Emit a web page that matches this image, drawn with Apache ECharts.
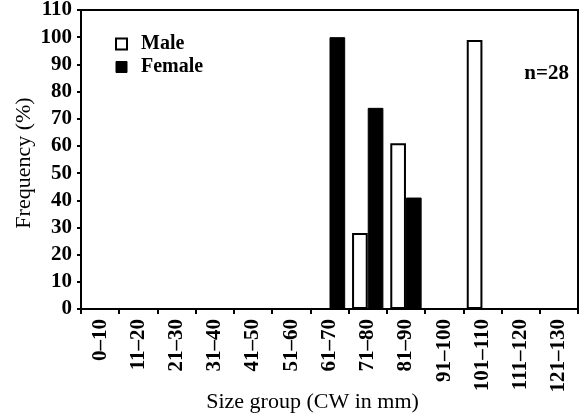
<!DOCTYPE html>
<html>
<head>
<meta charset="utf-8">
<script src="https://cdn.jsdelivr.net/npm/echarts@6/dist/echarts.min.js"></script>
<style>html,body{margin:0;padding:0;background:#fff}#c{width:580px;height:418px}</style>
</head>
<body>
<div id="c"></div>
<script>
const categories = ['0–10','11–20','21–30','31–40','41–50','51–60','61–70','71–80','81–90','91–100','101–110','111–120','121–130'];
const maleValues   = [0,0,0,0,0,0,0,28,61,0,99,0,0];
const femaleValues = [0,0,0,0,0,0,100,74,41,0,0,0,0];
const yTicks = {min: 0, max: 110, interval: 10};
const FONT = '"Liberation Serif", "Times New Roman", serif';

const chart = echarts.init(document.getElementById('c'), null, {renderer: 'canvas'});
chart.setOption({
  animation: false,
  backgroundColor: '#fff',
  textStyle: {fontFamily: FONT, color: '#000'},
  grid: {left: 81, top: 10, right: 2, bottom: 109, containLabel: false, outerBoundsMode: 'none',
         show: true, borderColor: '#000', borderWidth: 2, backgroundColor: 'transparent'},
  legend: {
    orient: 'vertical', left: 110, top: 29, itemWidth: 11, itemHeight: 11, itemGap: 3,
    icon: 'rect',
    textStyle: {fontFamily: FONT, fontSize: 20, color: '#000', fontWeight: 'bold', padding: [0, 0, 0, 9]},
    data: [
      {name: 'Male', itemStyle: {color: '#fff', borderColor: '#000', borderWidth: 2}},
      {name: 'Female', itemStyle: {color: '#000', borderColor: '#000', borderWidth: 1}}
    ]
  },
  graphic: [{type: 'text', right: 11, top: 63, style: {text: 'n=28', font: 'bold 21px ' + FONT, fill: '#000'}}],
  xAxis: {
    type: 'category', data: categories,
    name: 'Size group (CW in mm)', nameLocation: 'middle', nameGap: 82, nameMoveOverlap: false,
    nameTextStyle: {fontFamily: FONT, fontSize: 22, color: '#000', padding: [0, 34, 0, 0]},
    axisLine: {lineStyle: {color: '#000', width: 2}},
    axisTick: {show: true, length: 5, lineStyle: {color: '#000', width: 2}},
    axisLabel: {rotate: 90, interval: 0, fontFamily: FONT, fontSize: 21, fontWeight: 'bold', color: '#000', margin: 10}
  },
  yAxis: {
    type: 'value', min: yTicks.min, max: yTicks.max, interval: yTicks.interval,
    name: 'Frequency (%)', nameLocation: 'middle', nameGap: 46, nameMoveOverlap: false,
    nameTextStyle: {fontFamily: FONT, fontSize: 22, color: '#000', padding: [0, 7, 0, 0]},
    axisLine: {show: true, lineStyle: {color: '#000', width: 2}},
    axisTick: {show: true, length: 4, lineStyle: {color: '#000', width: 2}},
    splitLine: {show: false},
    axisLabel: {fontFamily: FONT, fontSize: 21, fontWeight: 'bold', color: '#000', margin: 9}
  },
  series: [
    {name: 'Male', type: 'bar', data: maleValues, barGap: '0%', barCategoryGap: '18%',
     itemStyle: {color: '#fff', borderColor: '#000', borderWidth: 2}},
    {name: 'Female', type: 'bar', data: femaleValues,
     itemStyle: {color: '#000', borderColor: '#000', borderWidth: 1}}
  ]
});
</script>
</body>
</html>
